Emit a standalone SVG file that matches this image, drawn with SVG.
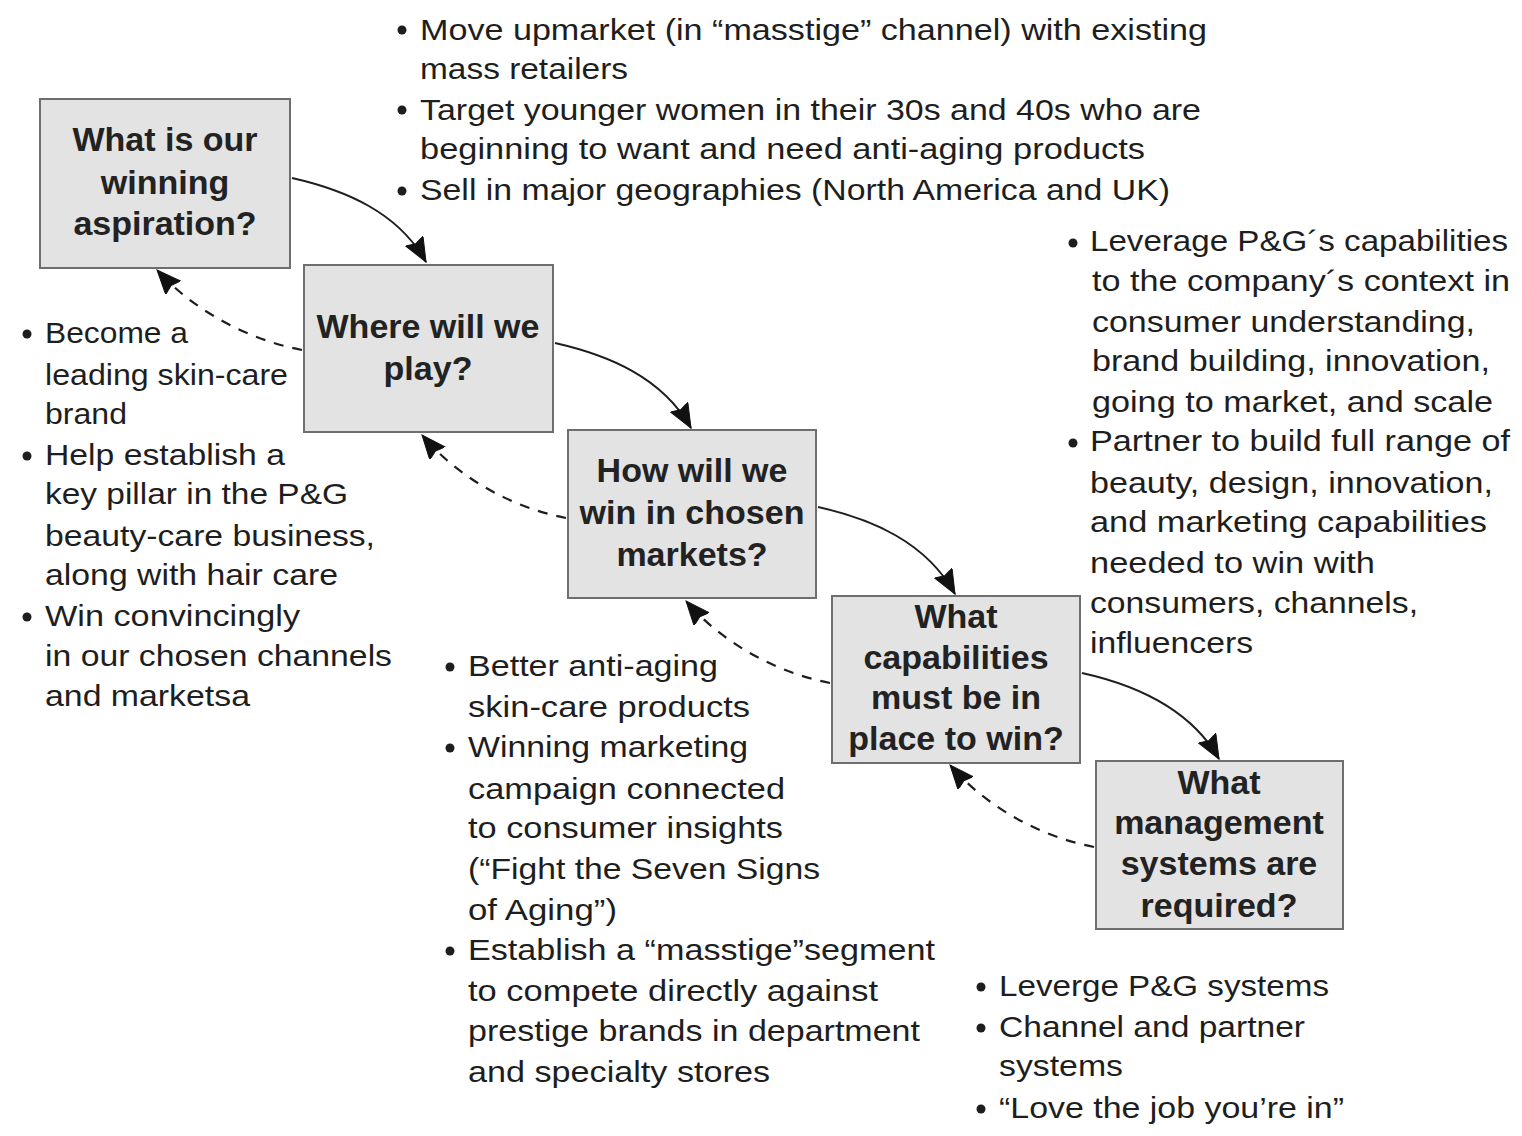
<svg xmlns="http://www.w3.org/2000/svg" width="1522" height="1136" viewBox="0 0 1522 1136">
<style>
.box{fill:#e3e3e3;stroke:#6e6e6e;stroke-width:2}
.q{font-family:"Liberation Sans",Arial,sans-serif;font-size:34px;font-weight:bold;fill:#222222;text-anchor:middle}
.t{font-family:"Liberation Sans",Arial,sans-serif;font-size:30px;fill:#1e1e1e}
.b{fill:#1e1e1e}
.solid{fill:none;stroke:#1e1e1e;stroke-width:2}
.dash{fill:none;stroke:#1e1e1e;stroke-width:2.2;stroke-dasharray:10 9}
</style>
<defs>
<marker id="ah" markerUnits="userSpaceOnUse" markerWidth="28" markerHeight="24" refX="24" refY="10" orient="auto">
<path d="M0,0 L24,10 L0,20 L3,10 z" fill="#111111" stroke="#111111" stroke-width="1" stroke-linejoin="miter"/>
</marker>
</defs>
<rect width="1522" height="1136" fill="#ffffff"/>

<g id="connectors">
<path class="solid" d="M292,178 C345,190 398,212 426,262" marker-end="url(#ah)"/>
<path class="solid" d="M555,343 C608,355 662,377 691,428" marker-end="url(#ah)"/>
<path class="solid" d="M818,507 C872,519 926,542 955,594" marker-end="url(#ah)"/>
<path class="solid" d="M1082,673 C1136,685 1190,708 1219,759" marker-end="url(#ah)"/>
<path class="dash" d="M302,350 C250,340 195,312 157,270" marker-end="url(#ah)"/>
<path class="dash" d="M566,518 C514,508 459,479 422,435" marker-end="url(#ah)"/>
<path class="dash" d="M830,683 C778,673 723,644 686,601" marker-end="url(#ah)"/>
<path class="dash" d="M1094,847 C1042,837 987,808 950,765" marker-end="url(#ah)"/>
</g>

<g id="node-aspiration">
<rect class="box" x="40" y="99" width="250" height="169"/>
<text class="q" x="165" y="151">What is our</text>
<text class="q" x="165" y="194">winning</text>
<text class="q" x="165" y="235">aspiration?</text>
</g>
<g id="node-where">
<rect class="box" x="304" y="265" width="249" height="167"/>
<text class="q" x="428" y="338">Where will we</text>
<text class="q" x="428" y="380">play?</text>
</g>
<g id="node-how">
<rect class="box" x="568" y="430" width="248" height="168"/>
<text class="q" x="692" y="482">How will we</text>
<text class="q" x="692" y="524">win in chosen</text>
<text class="q" x="692" y="566">markets?</text>
</g>
<g id="node-capabilities">
<rect class="box" x="832" y="596" width="248" height="167"/>
<text class="q" x="956" y="628">What</text>
<text class="q" x="956" y="669">capabilities</text>
<text class="q" x="956" y="709">must be in</text>
<text class="q" x="956" y="750">place to win?</text>
</g>
<g id="node-management">
<rect class="box" x="1096" y="761" width="247" height="168"/>
<text class="q" x="1219" y="794">What</text>
<text class="q" x="1219" y="834">management</text>
<text class="q" x="1219" y="875">systems are</text>
<text class="q" x="1219" y="917">required?</text>
</g>

<g id="notes-where">
<circle class="b" cx="402" cy="30" r="4.5"/>
<circle class="b" cx="402" cy="110" r="4.5"/>
<circle class="b" cx="402" cy="191" r="4.5"/>
<text class="t" x="420" y="40" textLength="787" lengthAdjust="spacingAndGlyphs">Move upmarket (in “masstige” channel) with existing</text>
<text class="t" x="420" y="79" textLength="208" lengthAdjust="spacingAndGlyphs">mass retailers</text>
<text class="t" x="420" y="120" textLength="781" lengthAdjust="spacingAndGlyphs">Target younger women in their 30s and 40s who are</text>
<text class="t" x="420" y="159" textLength="725" lengthAdjust="spacingAndGlyphs">beginning to want and need anti-aging products</text>
<text class="t" x="420" y="200" textLength="750" lengthAdjust="spacingAndGlyphs">Sell in major geographies (North America and UK)</text>
</g>

<g id="notes-capabilities">
<circle class="b" cx="1073" cy="243" r="4.5"/>
<circle class="b" cx="1073" cy="443" r="4.5"/>
<text class="t" x="1090" y="251" textLength="418" lengthAdjust="spacingAndGlyphs">Leverage P&amp;G´s capabilities</text>
<text class="t" x="1092" y="291" textLength="418" lengthAdjust="spacingAndGlyphs">to the company´s context in</text>
<text class="t" x="1092" y="332" textLength="383" lengthAdjust="spacingAndGlyphs">consumer understanding,</text>
<text class="t" x="1092" y="371" textLength="398" lengthAdjust="spacingAndGlyphs">brand building, innovation,</text>
<text class="t" x="1092" y="412" textLength="401" lengthAdjust="spacingAndGlyphs">going to market, and scale</text>
<text class="t" x="1090" y="451" textLength="420" lengthAdjust="spacingAndGlyphs">Partner to build full range of</text>
<text class="t" x="1090" y="493" textLength="403" lengthAdjust="spacingAndGlyphs">beauty, design, innovation,</text>
<text class="t" x="1090" y="532" textLength="397" lengthAdjust="spacingAndGlyphs">and marketing capabilities</text>
<text class="t" x="1090" y="573" textLength="285" lengthAdjust="spacingAndGlyphs">needed to win with</text>
<text class="t" x="1090" y="613" textLength="328" lengthAdjust="spacingAndGlyphs">consumers, channels,</text>
<text class="t" x="1090" y="653" textLength="163" lengthAdjust="spacingAndGlyphs">influencers</text>
</g>

<g id="notes-aspiration">
<circle class="b" cx="27" cy="334" r="4.5"/>
<circle class="b" cx="27" cy="456" r="4.5"/>
<circle class="b" cx="27" cy="617" r="4.5"/>
<text class="t" x="45" y="343" textLength="143" lengthAdjust="spacingAndGlyphs">Become a</text>
<text class="t" x="45" y="385" textLength="243" lengthAdjust="spacingAndGlyphs">leading skin-care</text>
<text class="t" x="45" y="424" textLength="82" lengthAdjust="spacingAndGlyphs">brand</text>
<text class="t" x="45" y="465" textLength="240" lengthAdjust="spacingAndGlyphs">Help establish a</text>
<text class="t" x="45" y="504" textLength="303" lengthAdjust="spacingAndGlyphs">key pillar in the P&amp;G</text>
<text class="t" x="45" y="546" textLength="330" lengthAdjust="spacingAndGlyphs">beauty-care business,</text>
<text class="t" x="45" y="585" textLength="293" lengthAdjust="spacingAndGlyphs">along with hair care</text>
<text class="t" x="45" y="626" textLength="255" lengthAdjust="spacingAndGlyphs">Win convincingly</text>
<text class="t" x="45" y="666" textLength="347" lengthAdjust="spacingAndGlyphs">in our chosen channels</text>
<text class="t" x="45" y="706" textLength="205" lengthAdjust="spacingAndGlyphs">and marketsa</text>
</g>

<g id="notes-how">
<circle class="b" cx="450" cy="667" r="4.5"/>
<circle class="b" cx="450" cy="748" r="4.5"/>
<circle class="b" cx="450" cy="951" r="4.5"/>
<text class="t" x="468" y="676" textLength="250" lengthAdjust="spacingAndGlyphs">Better anti-aging</text>
<text class="t" x="468" y="717" textLength="282" lengthAdjust="spacingAndGlyphs">skin-care products</text>
<text class="t" x="468" y="757" textLength="280" lengthAdjust="spacingAndGlyphs">Winning marketing</text>
<text class="t" x="468" y="799" textLength="317" lengthAdjust="spacingAndGlyphs">campaign connected</text>
<text class="t" x="468" y="838" textLength="315" lengthAdjust="spacingAndGlyphs">to consumer insights</text>
<text class="t" x="468" y="879" textLength="352" lengthAdjust="spacingAndGlyphs">(“Fight the Seven Signs</text>
<text class="t" x="468" y="920" textLength="149" lengthAdjust="spacingAndGlyphs">of Aging”)</text>
<text class="t" x="468" y="960" textLength="467" lengthAdjust="spacingAndGlyphs">Establish a “masstige”segment</text>
<text class="t" x="468" y="1001" textLength="410" lengthAdjust="spacingAndGlyphs">to compete directly against</text>
<text class="t" x="468" y="1041" textLength="452" lengthAdjust="spacingAndGlyphs">prestige brands in department</text>
<text class="t" x="468" y="1082" textLength="302" lengthAdjust="spacingAndGlyphs">and specialty stores</text>
</g>

<g id="notes-management">
<circle class="b" cx="981" cy="987" r="4.5"/>
<circle class="b" cx="981" cy="1028" r="4.5"/>
<circle class="b" cx="981" cy="1109" r="4.5"/>
<text class="t" x="999" y="996" textLength="330" lengthAdjust="spacingAndGlyphs">Leverge P&amp;G systems</text>
<text class="t" x="999" y="1037" textLength="306" lengthAdjust="spacingAndGlyphs">Channel and partner</text>
<text class="t" x="999" y="1076" textLength="124" lengthAdjust="spacingAndGlyphs">systems</text>
<text class="t" x="999" y="1118" textLength="345" lengthAdjust="spacingAndGlyphs">“Love the job you’re in”</text>
</g>
</svg>
